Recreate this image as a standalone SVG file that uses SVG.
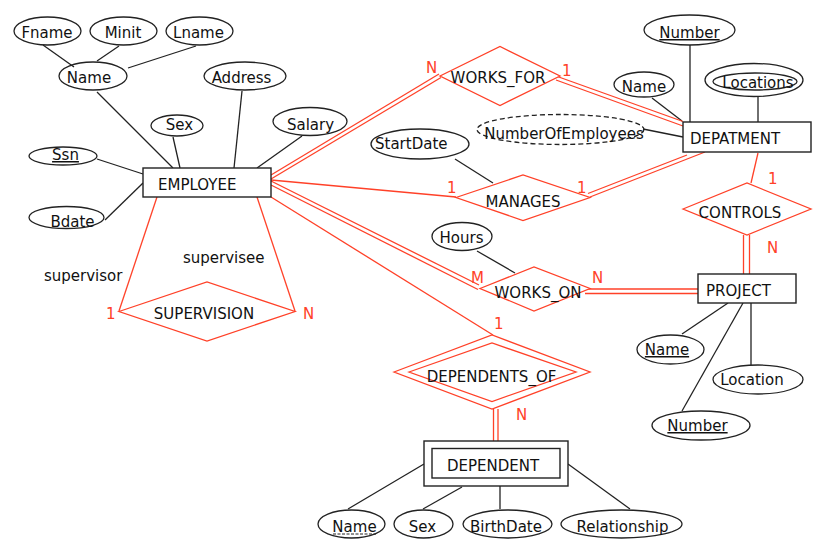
<svg xmlns="http://www.w3.org/2000/svg" width="827" height="549" viewBox="0 0 827 549">
<style>
.t{font-family:"DejaVu Sans",Verdana,sans-serif;font-size:15px;fill:#111}
.m{text-anchor:middle}
.u{text-decoration:underline}
.rt{font-family:"DejaVu Sans",Verdana,sans-serif;font-size:15px;fill:#ff4128}
.ent{fill:#fff;stroke:#222;stroke-width:1.4}
.attr{fill:none;stroke:#222;stroke-width:1.3}
.rel{fill:#fff;stroke:#ff4128;stroke-width:1.3}
.ln{stroke:#222;stroke-width:1.3;fill:none}
.rl{stroke:#ff4128;stroke-width:1.3;fill:none}
</style>
<rect width="827" height="549" fill="#fff"/>
<g id="connectors">
<line class="ln" x1="43" y1="45" x2="74" y2="67"/>
<line class="ln" x1="119" y1="46" x2="97" y2="61"/>
<line class="ln" x1="196" y1="46" x2="128" y2="68"/>
<line class="ln" x1="97" y1="92" x2="173" y2="168"/>
<line class="ln" x1="173" y1="137" x2="180" y2="168"/>
<line class="ln" x1="242" y1="91" x2="234" y2="168"/>
<line class="ln" x1="302" y1="136" x2="257" y2="168"/>
<line class="ln" x1="97" y1="159" x2="143" y2="174"/>
<line class="ln" x1="105" y1="220" x2="143" y2="183"/>
<line class="ln" x1="690" y1="45" x2="690" y2="122"/>
<line class="ln" x1="758" y1="97" x2="758" y2="122"/>
<line class="ln" x1="652" y1="98" x2="682" y2="121"/>
<line class="ln" x1="643" y1="129" x2="683" y2="137"/>
<line class="ln" x1="455" y1="159" x2="493" y2="183"/>
<line class="ln" x1="477" y1="251" x2="515" y2="273"/>
<line class="ln" x1="682" y1="334" x2="728" y2="303"/>
<line class="ln" x1="682" y1="411" x2="743" y2="303"/>
<line class="ln" x1="751" y1="365" x2="751" y2="303"/>
<line class="ln" x1="348" y1="509" x2="424" y2="464"/>
<line class="ln" x1="423" y1="509" x2="462" y2="487"/>
<line class="ln" x1="500" y1="509" x2="500" y2="486"/>
<line class="ln" x1="630" y1="509" x2="568" y2="464"/>
<line class="rl" x1="271" y1="175" x2="439" y2="74"/>
<line class="rl" x1="271" y1="179" x2="441" y2="77.5"/>
<line class="rl" x1="556" y1="76" x2="683" y2="121.5"/>
<line class="rl" x1="556" y1="80" x2="683" y2="126"/>
<line class="rl" x1="271" y1="180" x2="456" y2="197"/>
<line class="rl" x1="588" y1="193.5" x2="687" y2="155"/>
<line class="rl" x1="590" y1="197" x2="705" y2="152"/>
<line class="rl" x1="758" y1="153" x2="751" y2="183"/>
<line class="rl" x1="743.5" y1="235" x2="743.5" y2="274"/>
<line class="rl" x1="749.5" y1="235" x2="749.5" y2="274"/>
<line class="rl" x1="271" y1="181" x2="479" y2="285"/>
<line class="rl" x1="271" y1="185" x2="478" y2="289.5"/>
<line class="rl" x1="585" y1="289" x2="698" y2="289"/>
<line class="rl" x1="585" y1="293.5" x2="698" y2="293.5"/>
<line class="rl" x1="271" y1="197" x2="493" y2="335"/>
<line class="rl" x1="493.5" y1="409" x2="493.5" y2="441"/>
<line class="rl" x1="498" y1="409" x2="498" y2="441"/>
<line class="rl" x1="157" y1="197" x2="119" y2="311"/>
<line class="rl" x1="257" y1="197" x2="295" y2="311"/>
</g>
<g id="employee"><rect class="ent" x="143" y="168" width="128" height="29"/><text class="t" x="158" y="190">EMPLOYEE</text></g>
<g id="fname"><ellipse class="attr" cx="47.5" cy="31" rx="33.5" ry="14"/><text class="t m" x="47" y="38">Fname</text></g>
<g id="minit"><ellipse class="attr" cx="123.5" cy="31" rx="33.5" ry="14"/><text class="t m" x="123" y="38">Minit</text></g>
<g id="lname"><ellipse class="attr" cx="199.5" cy="31" rx="33.5" ry="14"/><text class="t m" x="198.5" y="38">Lname</text></g>
<g id="ename"><ellipse class="attr" cx="93" cy="76" rx="34" ry="14"/><text class="t m" x="89" y="83">Name</text></g>
<g id="address"><ellipse class="attr" cx="245" cy="76" rx="41" ry="14"/><text class="t m" x="241.5" y="83">Address</text></g>
<g id="esex"><ellipse class="attr" cx="177" cy="125.5" rx="26" ry="10.5"/><text class="t m" x="179.5" y="130">Sex</text></g>
<g id="salary"><ellipse class="attr" cx="310" cy="121.5" rx="37" ry="14"/><text class="t m" x="310.5" y="130">Salary</text></g>
<g id="ssn"><ellipse class="attr" cx="63" cy="156" rx="34" ry="9"/><text class="t m u" x="65.5" y="160">Ssn</text></g>
<g id="bdate"><ellipse class="attr" cx="66.5" cy="217.5" rx="37.5" ry="11"/><text class="t m" x="72.5" y="227">Bdate</text></g>
<g id="supervision"><polygon class="rel" points="119,311.5 207,282 295,311.5 207,341"/><text class="t m" x="204" y="319">SUPERVISION</text></g>
<text class="t" x="44" y="281">supervisor</text>
<text class="t" x="183" y="263">supervisee</text>
<text class="rt" x="106" y="319">1</text>
<text class="rt" x="303" y="319">N</text>
<g id="works_for"><polygon class="rel" points="440,76 500,46.5 560,76 500,105.5"/><text class="t m" x="498" y="83">WORKS_FOR</text></g>
<text class="rt" x="426" y="73">N</text>
<text class="rt" x="562" y="76">1</text>
<g id="department"><rect class="ent" x="683" y="122" width="128" height="30"/><text class="t" x="690" y="144">DEPATMENT</text></g>
<g id="dnumber"><ellipse class="attr" cx="689.5" cy="30" rx="45.5" ry="15"/><text class="t m u" x="689.5" y="38">Number</text></g>
<g id="locations"><ellipse class="attr" cx="754" cy="80" rx="49" ry="16.5"/><ellipse class="attr" cx="755" cy="81.5" rx="42" ry="8.5"/><text class="t m" x="758" y="88">Locations</text></g>
<g id="dname"><ellipse class="attr" cx="644" cy="84.5" rx="30" ry="12.5"/><text class="t m" x="644" y="92">Name</text></g>
<g id="numemp"><ellipse class="attr" cx="560.5" cy="129.5" rx="83.5" ry="15" stroke-dasharray="5,3"/><text class="t m" x="564" y="139">NumberOfEmployees</text></g>
<g id="manages"><polygon class="rel" points="456,197.5 523,175 590,197.5 523,220.5"/><text class="t m" x="523" y="207">MANAGES</text></g>
<text class="rt" x="447" y="193">1</text>
<text class="rt" x="577" y="193">1</text>
<g id="startdate"><ellipse class="attr" cx="420" cy="144" rx="49" ry="15"/><text class="t" x="375" y="149">StartDate</text></g>
<g id="controls"><polygon class="rel" points="683,209 747,183 811,209 747,235"/><text class="t m" x="740" y="218">CONTROLS</text></g>
<text class="rt" x="768" y="184">1</text>
<text class="rt" x="767" y="253">N</text>
<g id="project"><rect class="ent" x="698" y="274" width="98" height="29"/><text class="t" x="706" y="296">PROJECT</text></g>
<g id="works_on"><polygon class="rel" points="480,288.5 534,267 590,288.5 534,311"/><text class="t m" x="538" y="298">WORKS_ON</text></g>
<text class="rt" x="471" y="283">M</text>
<text class="rt" x="592" y="283">N</text>
<g id="hours"><ellipse class="attr" cx="462" cy="236.5" rx="30" ry="14"/><text class="t m" x="461.5" y="243">Hours</text></g>
<g id="pname"><ellipse class="attr" cx="670.5" cy="349.5" rx="33.5" ry="14.5"/><text class="t m u" x="667" y="355">Name</text></g>
<g id="plocation"><ellipse class="attr" cx="758" cy="379.5" rx="45" ry="14.5"/><text class="t m" x="752" y="385">Location</text></g>
<g id="pnumber"><ellipse class="attr" cx="701" cy="425.5" rx="49" ry="14.5"/><text class="t m u" x="697.5" y="431">Number</text></g>
<g id="dependents_of"><polygon class="rel" points="394,372 492,335 590,372 492,409"/><polygon class="rel" points="409,372 492,343 576,372 492,401.5"/><text class="t m" x="491.5" y="382">DEPENDENTS_OF</text></g>
<text class="rt" x="494" y="329">1</text>
<text class="rt" x="516" y="420">N</text>
<g id="dependent"><rect class="ent" x="424" y="441" width="144" height="45"/><rect class="ent" x="432" y="448.5" width="128" height="29.5"/><text class="t m" x="493" y="471">DEPENDENT</text></g>
<g id="depname"><ellipse class="attr" cx="351.5" cy="524" rx="33.5" ry="14"/><text class="t m" x="354.5" y="532">Name</text><line x1="333" y1="534" x2="376" y2="534" stroke="#222" stroke-width="1" stroke-dasharray="3,1.5"/></g>
<g id="depsex"><ellipse class="attr" cx="423.5" cy="524" rx="29.5" ry="14"/><text class="t m" x="422.5" y="532">Sex</text></g>
<g id="birthdate"><ellipse class="attr" cx="507.5" cy="524" rx="44.5" ry="14"/><text class="t m" x="506" y="532">BirthDate</text></g>
<g id="relationship"><ellipse class="attr" cx="621.5" cy="524" rx="60.5" ry="14"/><text class="t m" x="622.5" y="532">Relationship</text></g>
</svg>
